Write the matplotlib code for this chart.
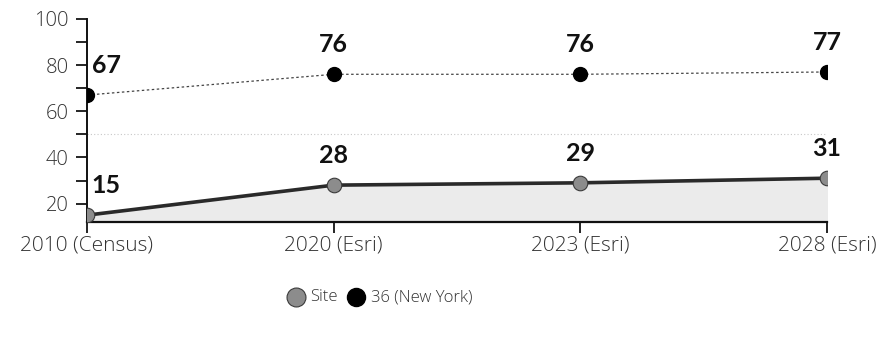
import numpy as np
import matplotlib
matplotlib.use("Agg")
import matplotlib.pyplot as plt

plt.rcParams['font.family'] = ['Lato', 'DejaVu Sans']

years = ['2010 (Census)', '2020 (Esri)', '2023 (Esri)', '2028 (Esri)']
site = [15, 28, 29, 31]
new_york = [67, 76, 76, 77]
y_ticks = [20, 40, 60, 80, 100]

fig = plt.figure(figsize=(8.84, 3.37), dpi=100)
ax = fig.add_axes([0.0984, 0.341, 0.837, 0.603])

x = np.arange(len(years))
ymin = 12

# light grid line at 50
ax.axhline(50, color='#c8c8c8', lw=0.8, ls=(0, (1, 2)), zorder=0)

# site: solid line with shaded area
ax.fill_between(x, site, ymin, color='#ebebeb', zorder=1)
ax.plot(x, site, color='#2a2a2a', lw=2.6, zorder=2)
ax.scatter(x, site, s=110, color='#8c8c8c', edgecolors='#3a3a3a', linewidths=0.8,
           zorder=3, label='Site')

# New York: dotted line
ax.plot(x, new_york, color='#444444', lw=0.9, ls=(0, (2, 2)), zorder=2)
ax.scatter(x, new_york, s=100, color='black', zorder=3, label='36 (New York)')

for i in range(len(years)):
    dx = 14 if i == 0 else 0
    for v in (site[i], new_york[i]):
        ax.annotate(str(v), (x[i], v), xytext=(dx, 16), textcoords='offset points',
                    ha='center', va='baseline', fontsize=18, fontweight='bold',
                    color='#111111')

ax.set_xlim(0, 3)
ax.set_ylim(ymin, 100)
ax.set_xticks(x)
ax.set_xticklabels(years, family=['Open Sans', 'DejaVu Sans'], fontweight='light')
ax.set_yticks(y_ticks)
ax.set_yticklabels([str(v) for v in y_ticks], family=['Open Sans', 'DejaVu Sans'],
                   fontweight='light')
ax.set_yticks([30, 50, 70, 90], minor=True)
ax.tick_params(axis='y', which='both', length=8, width=1.2, labelsize=14.5,
               labelcolor='#333333', pad=5)
ax.tick_params(axis='x', length=8, width=1.2, labelsize=15, labelcolor='#333333', pad=2)

for s in ['top', 'right']:
    ax.spines[s].set_visible(False)
ax.spines['left'].set_linewidth(1.4)
ax.spines['bottom'].set_linewidth(1.6)
ax.spines['left'].set_color('#111111')
ax.spines['bottom'].set_color('#111111')

leg = fig.legend(loc='center', bbox_to_anchor=(0.43, 0.118), ncol=2, frameon=False,
                 prop={'family': ['Open Sans', 'DejaVu Sans'], 'weight': 'light', 'size': 12},
                 handletextpad=0.4, columnspacing=0.6, markerscale=1.3,
                 handlelength=1.0)
for t in leg.get_texts():
    t.set_color('#333333')

fig.savefig('out.png', dpi=100)
